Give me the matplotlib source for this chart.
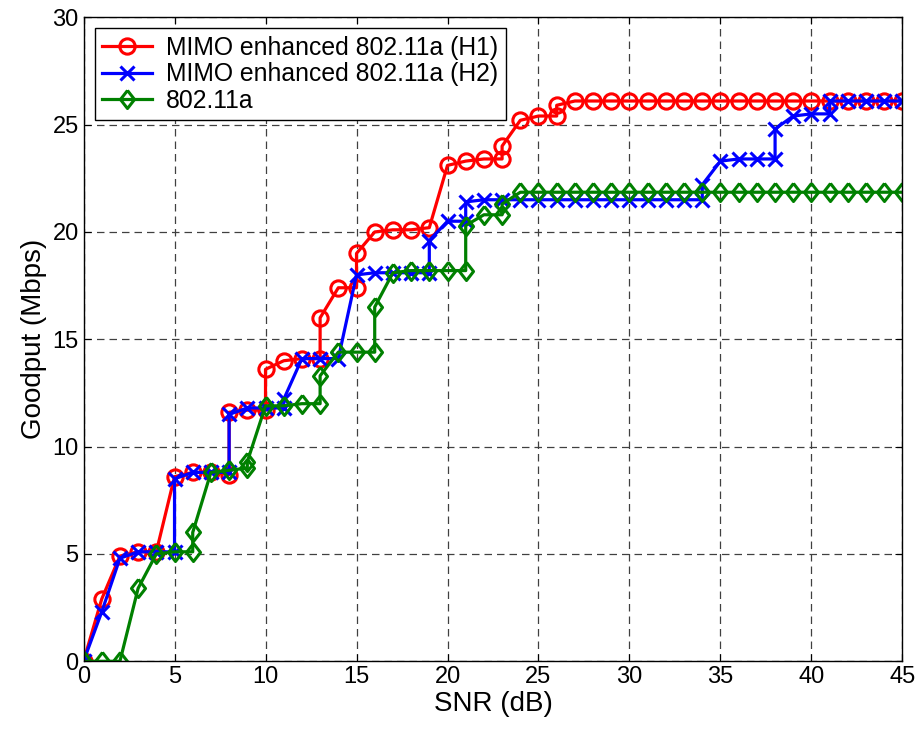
import matplotlib
matplotlib.use('Agg')
import matplotlib.pyplot as plt

# SNR points (some repeat where the curve jumps straight up)
snr_h1 = [0, 1, 2, 3, 4, 5, 6, 7, 8, 8, 9, 10, 10, 11, 12, 13, 13, 14, 15, 15,
          16, 17, 18, 19, 20, 21, 22, 23, 23, 24, 25, 26, 26] + list(range(27, 46))
goodput_h1 = [0, 2.9, 4.9, 5.1, 5.1, 8.6, 8.8, 8.8, 8.7, 11.6, 11.7, 11.7, 13.6, 14.0,
              14.1, 14.1, 16.0, 17.4, 17.4, 19.0, 20.0, 20.1, 20.1, 20.2, 23.1, 23.3,
              23.4, 23.4, 24.0, 25.2, 25.4, 25.4, 25.9] + [26.1] * 19

snr_h2 = [0, 1, 2, 3, 4, 5, 5, 6, 7, 8, 8, 9, 10, 11, 11, 12, 13, 14, 15, 16, 17, 18,
          19, 19, 20, 21, 21, 22, 23] + list(range(24, 34)) + \
         [34, 34, 35, 36, 37, 38, 38, 39, 40, 41, 41, 42, 43, 44, 45]
goodput_h2 = [0, 2.3, 4.8, 5.1, 5.1, 5.1, 8.5, 8.8, 8.8, 8.8, 11.5, 11.8, 11.8, 11.8,
              12.2, 14.1, 14.1, 14.1, 18.0, 18.1, 18.1, 18.1, 18.1, 19.6, 20.5, 20.5,
              21.4, 21.5, 21.5] + [21.5] * 10 + \
             [21.5, 22.2, 23.3, 23.4, 23.4, 23.4, 24.8, 25.4, 25.5, 25.5, 26.1, 26.1,
              26.1, 26.1, 26.1]

snr_a = [0, 1, 2, 3, 4, 5, 6, 6, 7, 8, 9, 9, 10, 11, 12, 13, 13, 14, 15, 16, 16, 17,
         18, 19, 20, 21, 21, 22, 23, 23] + list(range(24, 46))
goodput_a = [0, 0, 0, 3.4, 5.0, 5.1, 5.1, 6.0, 8.8, 8.9, 9.0, 9.3, 11.9, 11.9, 12.0,
             12.0, 13.3, 14.4, 14.4, 14.4, 16.5, 18.1, 18.2, 18.2, 18.2, 18.2, 20.3,
             20.8, 20.8, 21.3] + [21.85] * 22

labels = ['MIMO enhanced 802.11a (H1)', 'MIMO enhanced 802.11a (H2)', '802.11a']
x_ticks = list(range(0, 46, 5))
y_ticks = list(range(0, 31, 5))

plt.rcParams['font.family'] = ['Liberation Sans', 'DejaVu Sans']
plt.rcParams['font.size'] = 17
plt.rcParams['xtick.direction'] = 'in'
plt.rcParams['ytick.direction'] = 'in'
plt.rcParams['xtick.top'] = True
plt.rcParams['ytick.right'] = True
plt.rcParams['xtick.major.size'] = 5
plt.rcParams['ytick.major.size'] = 5

diamond = [(0, 1), (0.78, 0), (0, -1), (-0.78, 0), (0, 1)]

fig = plt.figure(figsize=(9.24, 7.32), dpi=100)
ax = fig.add_axes([0.0904, 0.0966, 0.8863, 0.8798])

ax.plot(snr_h1, goodput_h1, color='r', marker='o', ms=11, mew=2.2, mfc='none',
        lw=2.3, label=labels[0])
ax.plot(snr_h2, goodput_h2, color='b', marker='x', ms=10.5, mew=2.2,
        lw=2.3, label=labels[1])
ax.plot(snr_a, goodput_a, color='g', marker=diamond, ms=13, mew=2.2, mfc='none',
        lw=2.3, label=labels[2])

ax.set_xlim(0, 45)
ax.set_ylim(0, 30)
ax.set_xticks(x_ticks)
ax.set_yticks(y_ticks)
ax.grid(True, color='0.25', linestyle=(0, (6, 4)), linewidth=0.9)
for s in ax.spines.values():
    s.set_linewidth(1)

ax.set_xlabel('SNR (dB)', fontsize=20, labelpad=2)
ax.set_ylabel('Goodput (Mbps)', fontsize=20, labelpad=4)

leg = ax.legend(loc='upper left', fancybox=False, edgecolor='k', framealpha=1,
                borderaxespad=0.45, handlelength=2.0, labelspacing=0.1,
                borderpad=0.3, handletextpad=0.6, fontsize=17.8)
leg.get_frame().set_linewidth(1)

plt.savefig('out.png', dpi=100)
